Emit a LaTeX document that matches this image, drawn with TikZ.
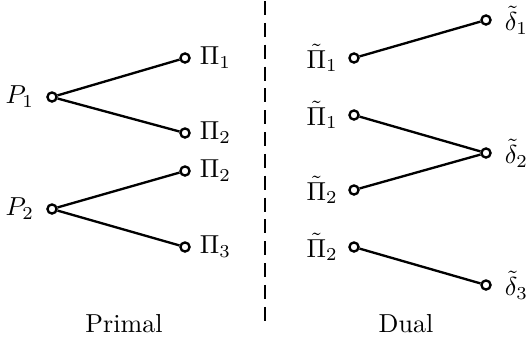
\documentclass[tikz,border=0pt]{standalone}
\begin{document}
\begin{tikzpicture}[x=0.3846pt,y=-0.3846pt,
  pt/.style={circle,draw,line width=0.9pt,fill=white,minimum size=3.5pt,inner sep=0pt},
  conn/.style={line width=0.9pt},
  sep/.style={line width=0.9pt,dash pattern=on 5.4pt off 3pt}]
\useasboundingbox (0,0) rectangle (526,341);
% primal
\node[pt,label={[label distance=1.2pt]left:$P_1$}] (P1) at (52,97) {};
\node[pt,label={[label distance=1.2pt]left:$P_2$}] (P2) at (52,209) {};
\node[pt,label={right:$\Pi_1$}] (A1) at (185,58) {};
\node[pt,label={right:$\Pi_2$}] (A2) at (185,133) {};
\node[pt,label={right:$\Pi_2$}] (A3) at (185,171) {};
\node[pt,label={right:$\Pi_3$}] (A4) at (185,247) {};
\draw[conn] (P1) -- (A1);
\draw[conn] (P1) -- (A2);
\draw[conn] (P2) -- (A3);
\draw[conn] (P2) -- (A4);
% separator
\coordinate (s1) at (265,1);
\coordinate (s2) at (265,323);
\draw[sep] (s1) -- (s2);
% dual
\node[pt,label={[label distance=0.5pt]left:$\tilde{\Pi}_1$}] (B1) at (354,58) {};
\node[pt,label={[label distance=0.5pt]left:$\tilde{\Pi}_1$}] (B2) at (354,115) {};
\node[pt,label={[label distance=0.5pt]left:$\tilde{\Pi}_2$}] (B3) at (354,190) {};
\node[pt,label={[label distance=0.5pt]left:$\tilde{\Pi}_2$}] (B4) at (354,247) {};
\node[pt,label={[label distance=1.5pt]right:$\tilde{\delta}_1$}] (D1) at (486,20) {};
\node[pt,label={[label distance=1.5pt]right:$\tilde{\delta}_2$}] (D2) at (486,153) {};
\node[pt,label={[label distance=1.5pt]right:$\tilde{\delta}_3$}] (D3) at (486,285) {};
\draw[conn] (B1) -- (D1);
\draw[conn] (B2) -- (D2);
\draw[conn] (B3) -- (D2);
\draw[conn] (B4) -- (D3);
% captions
\node (primal) at (124,324) {Primal};
\node (dual) at (406,324) {Dual};
\end{tikzpicture}
\end{document}
